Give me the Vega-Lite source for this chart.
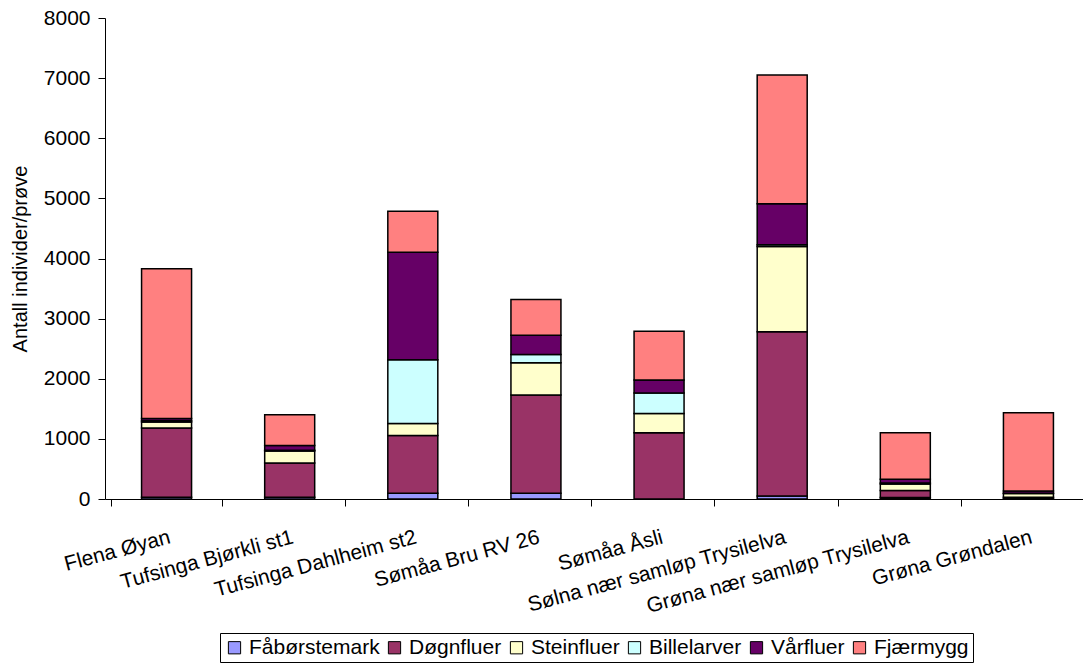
{
  "$schema": "https://vega.github.io/schema/vega-lite/v6.json",
  "autosize": {"type": "none"},
  "padding": {"left": 105, "top": 18, "right": 0, "bottom": 166},
  "width": 985,
  "height": 481,
  "background": "white",
  "config": {
    "font": "Liberation Sans",
    "view": {"stroke": null},
    "axis": {"grid": false, "domainColor": "#000", "tickColor": "#000", "labelColor": "#000", "titleColor": "#000", "labelFont": "Liberation Sans", "titleFont": "Liberation Sans"}
  },
  "data": {
    "values": [
      {"site": "Flena Øyan", "g": "Fåbørstemark", "v": 30},
      {"site": "Flena Øyan", "g": "Døgnfluer", "v": 1150},
      {"site": "Flena Øyan", "g": "Steinfluer", "v": 100},
      {"site": "Flena Øyan", "g": "Billelarver", "v": 20},
      {"site": "Flena Øyan", "g": "Vårfluer", "v": 40},
      {"site": "Flena Øyan", "g": "Fjærmygg", "v": 2490},
      {"site": "Tufsinga Bjørkli st1", "g": "Fåbørstemark", "v": 30},
      {"site": "Tufsinga Bjørkli st1", "g": "Døgnfluer", "v": 570},
      {"site": "Tufsinga Bjørkli st1", "g": "Steinfluer", "v": 200},
      {"site": "Tufsinga Bjørkli st1", "g": "Billelarver", "v": 10},
      {"site": "Tufsinga Bjørkli st1", "g": "Vårfluer", "v": 80},
      {"site": "Tufsinga Bjørkli st1", "g": "Fjærmygg", "v": 510},
      {"site": "Tufsinga Dahlheim st2", "g": "Fåbørstemark", "v": 95},
      {"site": "Tufsinga Dahlheim st2", "g": "Døgnfluer", "v": 960},
      {"site": "Tufsinga Dahlheim st2", "g": "Steinfluer", "v": 200},
      {"site": "Tufsinga Dahlheim st2", "g": "Billelarver", "v": 1060},
      {"site": "Tufsinga Dahlheim st2", "g": "Vårfluer", "v": 1790},
      {"site": "Tufsinga Dahlheim st2", "g": "Fjærmygg", "v": 680},
      {"site": "Sømåa Bru RV 26", "g": "Fåbørstemark", "v": 95},
      {"site": "Sømåa Bru RV 26", "g": "Døgnfluer", "v": 1635},
      {"site": "Sømåa Bru RV 26", "g": "Steinfluer", "v": 535},
      {"site": "Sømåa Bru RV 26", "g": "Billelarver", "v": 140},
      {"site": "Sømåa Bru RV 26", "g": "Vårfluer", "v": 320},
      {"site": "Sømåa Bru RV 26", "g": "Fjærmygg", "v": 595},
      {"site": "Sømåa Åsli", "g": "Fåbørstemark", "v": 0},
      {"site": "Sømåa Åsli", "g": "Døgnfluer", "v": 1100},
      {"site": "Sømåa Åsli", "g": "Steinfluer", "v": 320},
      {"site": "Sømåa Åsli", "g": "Billelarver", "v": 345},
      {"site": "Sømåa Åsli", "g": "Vårfluer", "v": 215},
      {"site": "Sømåa Åsli", "g": "Fjærmygg", "v": 810},
      {"site": "Sølna nær samløp Trysilelva", "g": "Fåbørstemark", "v": 50},
      {"site": "Sølna nær samløp Trysilelva", "g": "Døgnfluer", "v": 2730},
      {"site": "Sølna nær samløp Trysilelva", "g": "Steinfluer", "v": 1420},
      {"site": "Sølna nær samløp Trysilelva", "g": "Billelarver", "v": 30},
      {"site": "Sølna nær samløp Trysilelva", "g": "Vårfluer", "v": 680},
      {"site": "Sølna nær samløp Trysilelva", "g": "Fjærmygg", "v": 2140},
      {"site": "Grøna nær samløp Trysilelva", "g": "Fåbørstemark", "v": 25},
      {"site": "Grøna nær samløp Trysilelva", "g": "Døgnfluer", "v": 115},
      {"site": "Grøna nær samløp Trysilelva", "g": "Steinfluer", "v": 110},
      {"site": "Grøna nær samløp Trysilelva", "g": "Billelarver", "v": 15},
      {"site": "Grøna nær samløp Trysilelva", "g": "Vårfluer", "v": 65},
      {"site": "Grøna nær samløp Trysilelva", "g": "Fjærmygg", "v": 770},
      {"site": "Grøna Grøndalen", "g": "Fåbørstemark", "v": 10},
      {"site": "Grøna Grøndalen", "g": "Døgnfluer", "v": 20},
      {"site": "Grøna Grøndalen", "g": "Steinfluer", "v": 60},
      {"site": "Grøna Grøndalen", "g": "Billelarver", "v": 5},
      {"site": "Grøna Grøndalen", "g": "Vårfluer", "v": 40},
      {"site": "Grøna Grøndalen", "g": "Fjærmygg", "v": 1300}
    ]
  },
  "transform": [
    {"calculate": "indexof(['Fåbørstemark','Døgnfluer','Steinfluer','Billelarver','Vårfluer','Fjærmygg'], datum.g)", "as": "k"}
  ],
  "mark": {"type": "bar", "size": 50, "stroke": "#000", "strokeWidth": 1.5},
  "encoding": {
    "x": {
      "field": "site", "type": "nominal", "sort": null, "title": null,
      "axis": {"labelAngle": -15, "labelAlign": "right", "labelBaseline": "top", "labelFontSize": 21, "labelPadding": 20, "tickBand": "extent", "tickSize": 7, "labelLimit": 400}
    },
    "y": {
      "field": "v", "type": "quantitative", "stack": "zero",
      "scale": {"domain": [0, 8000], "nice": false},
      "axis": {"values": [0, 1000, 2000, 3000, 4000, 5000, 6000, 7000, 8000], "format": "d", "labelFontSize": 21, "tickSize": 7, "labelPadding": 8, "title": "Antall individer/prøve", "titleFontSize": 20, "titleFontWeight": "normal", "titlePadding": 13}
    },
    "color": {
      "field": "g", "type": "nominal",
      "scale": {
        "domain": ["Fåbørstemark", "Døgnfluer", "Steinfluer", "Billelarver", "Vårfluer", "Fjærmygg"],
        "range": ["#9999FF", "#993366", "#FFFFCC", "#CCFFFF", "#660066", "#FF8080"]
      },
      "legend": {
        "title": null, "orient": "none", "legendX": 115, "legendY": 615, "direction": "horizontal", "columns": 6,
        "strokeColor": "#000", "padding": 4, "symbolType": "square", "symbolSize": 150, "symbolStrokeColor": "#000", "symbolStrokeWidth": 1,
        "labelFontSize": 21, "labelColor": "#000", "columnPadding": 4, "labelOffset": 4
      }
    },
    "order": {"field": "k", "type": "quantitative"}
  }
}
